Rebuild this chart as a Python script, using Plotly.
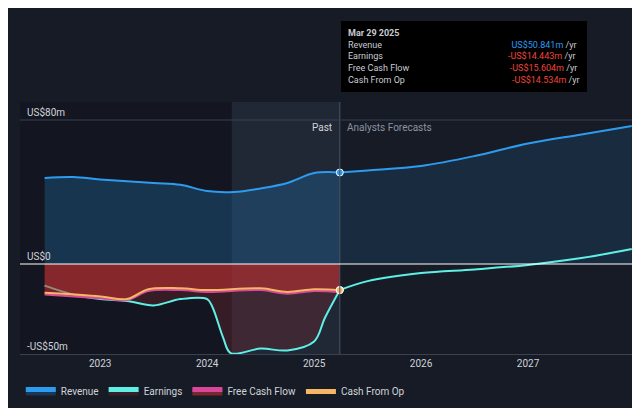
import plotly.graph_objects as go

rev_x = [2022.48, 2022.75, 2023.0, 2023.5, 2023.75, 2024.0, 2024.25, 2024.5, 2024.75, 2025.0, 2025.24]
rev_y = [47.8, 48.3, 47.0, 45.0, 44.0, 40.5, 40.0, 42.0, 45.0, 50.5, 50.84]
revf_x = [2025.24, 2025.5, 2026.0, 2026.5, 2027.0, 2027.5, 2027.97]
revf_y = [50.84, 52.0, 54.5, 60.0, 67.0, 72.0, 76.7]

earn_x = [2022.48, 2022.75, 2023.0, 2023.25, 2023.5, 2023.75, 2024.0, 2024.05, 2024.15, 2024.22, 2024.5, 2024.75, 2025.0, 2025.1, 2025.24]
earn_y = [-12, -17, -19.5, -20.5, -23, -19.5, -19.5, -24, -41, -49.5, -47, -48, -43, -30, -14.44]
earnf_x = [2025.24, 2025.5, 2026.0, 2026.5, 2027.0, 2027.5, 2027.97]
earnf_y = [-14.44, -9.5, -5.0, -3.0, -0.5, 3.3, 8.3]

cf_x = [2022.48, 2023.0, 2023.25, 2023.45, 2023.75, 2024.0, 2024.5, 2024.75, 2025.0, 2025.24]
fcf_y = [-17, -19, -20, -15, -14.5, -15.5, -14.5, -16.5, -15, -15.6]
cfo_y = [-16, -18, -19.5, -14, -13.5, -14.5, -13.5, -15.5, -14, -14.53]

BLUE, TEAL, PINK, ORANGE = "#2d9cf0", "#5ef0e6", "#d9479b", "#f5b766"
now = 2025.24

fig = go.Figure()
fig.add_shape(type="rect", x0=2024.23, x1=now, y0=-50, y1=90, fillcolor="rgba(80,100,130,0.18)", line_width=0, layer="below")
fig.add_shape(type="rect", x0=2022.25, x1=2024.23, y0=-50, y1=90, fillcolor="rgba(0,0,0,0.15)", line_width=0, layer="below")

fig.add_trace(go.Scatter(x=rev_x, y=rev_y, mode="lines", line=dict(color=BLUE, width=2, shape="spline"),
                         fill="tozeroy", fillcolor="rgba(30,90,140,0.45)", name="Revenue"))
fig.add_trace(go.Scatter(x=revf_x, y=revf_y, mode="lines", line=dict(color=BLUE, width=2, shape="spline"),
                         fill="tozeroy", fillcolor="rgba(30,90,140,0.25)", showlegend=False))
fig.add_trace(go.Scatter(x=earn_x, y=earn_y, mode="lines", line=dict(color=TEAL, width=2, shape="spline"),
                         fill="tozeroy", fillcolor="rgba(120,40,50,0.35)", name="Earnings"))
fig.add_trace(go.Scatter(x=earnf_x, y=earnf_y, mode="lines", line=dict(color=TEAL, width=2, shape="spline"), showlegend=False))
fig.add_trace(go.Scatter(x=cf_x, y=fcf_y, mode="lines", line=dict(color=PINK, width=2, shape="spline"),
                         fill="tozeroy", fillcolor="rgba(200,50,50,0.55)", name="Free Cash Flow"))
fig.add_trace(go.Scatter(x=cf_x, y=cfo_y, mode="lines", line=dict(color=ORANGE, width=2, shape="spline"), name="Cash From Op"))
fig.add_trace(go.Scatter(x=[now, now, now], y=[rev_y[-1], earn_y[-1], cfo_y[-1]], mode="markers",
                         marker=dict(color=[BLUE, TEAL, ORANGE], size=7, line=dict(color="white", width=1)), showlegend=False))

fig.add_shape(type="line", x0=now, x1=now, y0=-50, y1=90, line=dict(color="#4a5566", width=1))
fig.add_shape(type="line", x0=2022.25, x1=2028, y0=0, y1=0, line=dict(color="white", width=1))
fig.add_shape(type="line", x0=2022.25, x1=2028, y0=80, y1=80, line=dict(color="#3a4150", width=1))

grey = "#d0d4da"
fig.add_annotation(x=2022.3, y=80, text="US$80m", showarrow=False, xanchor="left", yanchor="bottom", font=dict(color=grey, size=10))
fig.add_annotation(x=2022.3, y=0, text="US$0", showarrow=False, xanchor="left", yanchor="bottom", font=dict(color=grey, size=10))
fig.add_annotation(x=2022.3, y=-50, text="-US$50m", showarrow=False, xanchor="left", yanchor="bottom", font=dict(color=grey, size=10))
fig.add_annotation(x=now - 0.05, y=80, text="Past", showarrow=False, xanchor="right", yanchor="top", font=dict(color=grey, size=10))
fig.add_annotation(x=now + 0.05, y=80, text="Analysts Forecasts", showarrow=False, xanchor="left", yanchor="top", font=dict(color="#8a93a0", size=10))

tip = ("<b>Mar 29 2025</b><br>Revenue" + "&nbsp;" * 58 + "<span style='color:#2d9cf0'>US$50.841m</span> /yr"
       "<br>Earnings" + "&nbsp;" * 56 + "<span style='color:#f0443a'>-US$14.443m</span> /yr"
       "<br>Free Cash Flow" + "&nbsp;" * 45 + "<span style='color:#f0443a'>-US$15.604m</span> /yr"
       "<br>Cash From Op" + "&nbsp;" * 48 + "<span style='color:#f0443a'>-US$14.534m</span> /yr")
fig.add_annotation(xref="paper", yref="paper", x=0.522, y=1.32, text=tip, showarrow=False, align="left",
                   xanchor="left", yanchor="top", bgcolor="black", bordercolor="black", borderpad=6,
                   font=dict(color="#c8ccd2", size=9))

fig.update_layout(
    width=640, height=408, paper_bgcolor="#171b26", plot_bgcolor="#171b26",
    margin=dict(l=12, r=13, t=94, b=62, autoexpand=False),
    font=dict(family="Roboto, sans-serif", color=grey),
    xaxis=dict(range=[2022.25, 2028], tickvals=[2023, 2024, 2025, 2026, 2027], ticktext=["2023", "2024", "2025", "2026", "2027"],
               showgrid=False, zeroline=False, showline=True, linecolor="#3a4150", tickfont=dict(size=10)),
    yaxis=dict(range=[-50, 90], showgrid=False, zeroline=False, showticklabels=False),
    legend=dict(orientation="h", x=0.02, y=0.06, xref="container", yref="container", xanchor="left", yanchor="middle",
                bgcolor="rgba(0,0,0,0)", font=dict(size=10, color=grey), itemsizing="constant"),
)
fig.write_html("out.html")
